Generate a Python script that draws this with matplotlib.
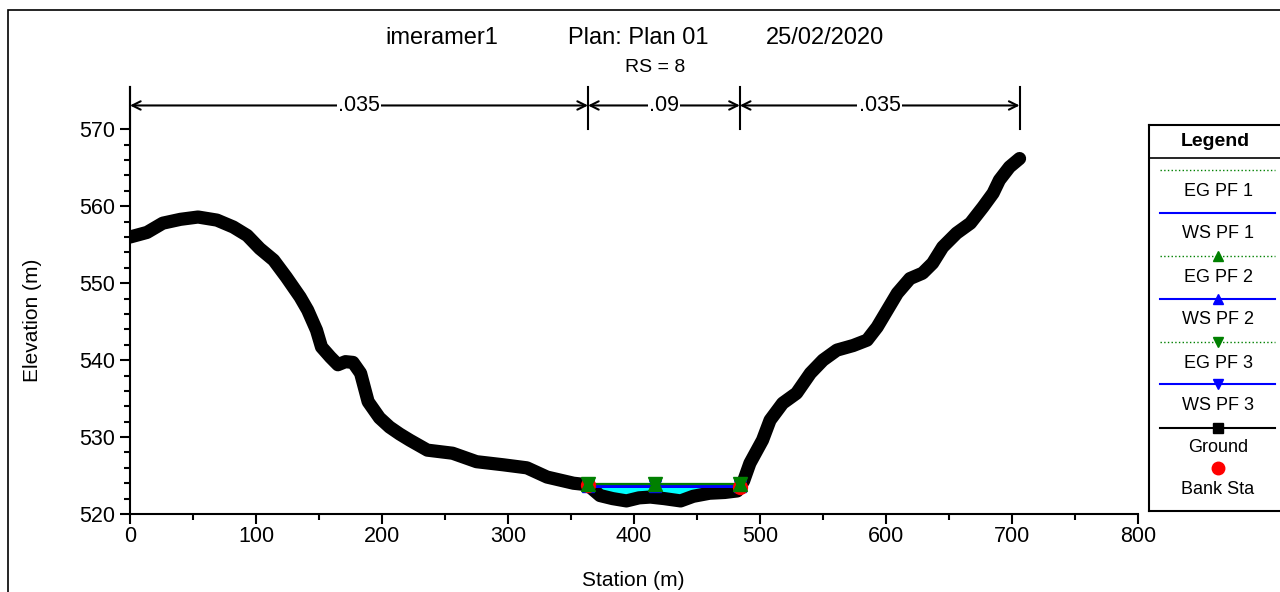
import numpy as np
import matplotlib
matplotlib.use("Agg")
import matplotlib.pyplot as plt
from matplotlib.patches import Rectangle
from matplotlib.ticker import MultipleLocator, FixedLocator

plt.rcParams['font.family'] = ['Liberation Sans', 'DejaVu Sans']

# ground profile (station m, elevation m)
station = [0, 13.5, 26, 40, 54, 69, 82, 93, 103, 114, 124, 135, 141, 148, 152,
           159, 165, 171, 177, 183, 189, 198, 206, 214, 222, 236, 256, 275, 296,
           315, 331, 352, 363, 373, 383, 394, 404, 413, 424, 437, 447, 460, 472,
           482, 487, 492, 502, 508, 518, 529, 540, 550, 561, 574, 585, 593, 601,
           609, 619, 629, 637, 645, 656, 667, 677, 685, 690, 698, 706]
ground = [556.0, 556.6, 557.8, 558.3, 558.6, 558.2, 557.3, 556.2, 554.5, 553.0,
          550.8, 548.2, 546.5, 543.9, 541.7, 540.4, 539.4, 539.8, 539.7, 538.3,
          534.6, 532.5, 531.3, 530.4, 529.6, 528.3, 527.9, 526.8, 526.4, 526.0,
          524.8, 524.0, 523.8, 522.4, 522.0, 521.7, 522.1, 522.2, 522.0, 521.7,
          522.3, 522.7, 522.8, 523.0, 524.3, 526.6, 529.6, 532.2, 534.4, 535.7,
          538.3, 540.0, 541.3, 541.9, 542.6, 544.3, 546.5, 548.7, 550.6, 551.3,
          552.6, 554.7, 556.5, 557.8, 559.9, 561.7, 563.4, 565.1, 566.2]

bank_sta = [363.5, 484]
ws_extent = [364, 484]
ws_elev = {'PF 1': 523.65, 'PF 2': 523.65, 'PF 3': 523.65}
eg_elev = {'PF 1': 523.95, 'PF 2': 523.95, 'PF 3': 523.95}
marker_sta = [363.5, 417, 484]

n_edges = [0, 363.5, 484, 706]
n_values = ['.035', '.09', '.035']

W, H = 1280, 592
fig = plt.figure(figsize=(12.8, 5.92), dpi=100)

# outer frame
fig.patches.append(Rectangle((8 / W, -0.05), 1.1, 1 - 10 / H + 0.05,
                             transform=fig.transFigure, fill=False,
                             edgecolor='black', lw=1.2))

ax = fig.add_axes([130 / W, 1 - 514 / H, (1138 - 130) / W, (514 - 87) / H])
ax.set_xlim(0, 800)
ax.set_ylim(520, 575.5)
for s in ['top', 'right']:
    ax.spines[s].set_visible(False)
ax.spines['left'].set_linewidth(1.5)
ax.spines['bottom'].set_linewidth(1.5)
ax.xaxis.set_major_locator(MultipleLocator(100))
ax.xaxis.set_minor_locator(MultipleLocator(50))
ax.yaxis.set_major_locator(FixedLocator(np.arange(520, 571, 10)))
ax.yaxis.set_minor_locator(FixedLocator(np.arange(520, 571, 2)))
ax.tick_params(which='major', length=7, width=1.5, labelsize=15.5, direction='out')
ax.tick_params(which='minor', length=4, width=1.5, direction='out')
ax.tick_params(axis='x', pad=2)
ax.tick_params(axis='y', pad=4)

fig.text(633 / W, 1 - 580 / H, 'Station (m)', fontsize=15, ha='center', va='center')
fig.text(33 / W, 1 - 320 / H, 'Elevation (m)', fontsize=15, ha='center',
         va='center', rotation=90)

st = np.array(station)
gr = np.array(ground)

# water fill in channel
ws = ws_elev['PF 1']
fine_st = np.linspace(ws_extent[0], ws_extent[1], 400)
fine_gr = np.interp(fine_st, st, gr)
ax.fill_between(fine_st, fine_gr, ws, where=fine_gr < ws, color='cyan', zorder=2)

ax.plot(st, gr, color='black', lw=9.5, solid_joinstyle='round',
        solid_capstyle='round', zorder=3)

# water surface / energy grade lines
ws_marks = {'PF 1': None, 'PF 2': '^', 'PF 3': 'v'}
for pf, mk in ws_marks.items():
    ax.plot(ws_extent, [ws_elev[pf]] * 2, color='blue', lw=2, zorder=4)
    ax.plot(ws_extent, [eg_elev[pf]] * 2, color='green', lw=1.5, zorder=5)
for pf, mk in ws_marks.items():
    if mk is None:
        continue
    ax.plot(marker_sta, [ws_elev[pf]] * 3, ls='none', marker=mk, color='blue',
            ms=9, zorder=4)
bank_el = np.interp(bank_sta, st, gr)
ax.plot(bank_sta, bank_el, ls='none', marker='o', color='red', ms=10, zorder=5)
for pf, mk in ws_marks.items():
    if mk is None:
        continue
    ax.plot(marker_sta, [eg_elev[pf]] * 3, ls='none', marker=mk, color='green',
            ms=10, zorder=6)

# Manning's n bars
y_arrow = 573.1
for x in n_edges:
    ax.plot([x, x], [570.1, 575.5], color='black', lw=1.5, clip_on=False, zorder=7)
for i, lab in enumerate(n_values):
    x0, x1 = n_edges[i], n_edges[i + 1]
    ax.annotate('', xy=(x1, y_arrow), xytext=(x0, y_arrow),
                arrowprops=dict(arrowstyle='<->,head_length=0.6,head_width=0.3',
                                color='black', lw=1.5, shrinkA=0, shrinkB=0),
                annotation_clip=False)
    ax.text((x0 + x1) / 2, y_arrow, lab, ha='center', va='center', fontsize=15.5,
            bbox=dict(facecolor='white', edgecolor='none', pad=1), zorder=8)

# titles
fig.text(385 / W, 1 - 38 / H, 'imeramer1', fontsize=17, va='center', ha='left')
fig.text(568 / W, 1 - 38 / H, 'Plan: Plan 01', fontsize=17, va='center', ha='left')
fig.text(766 / W, 1 - 38 / H, '25/02/2020', fontsize=17, va='center', ha='left')
fig.text(655 / W, 1 - 68 / H, 'RS = 8', fontsize=14, va='center', ha='center')

# legend box (pixel coords)
lg = fig.add_axes([1149 / W, 1 - 511 / H, (1285 - 1149) / W, (511 - 125) / H])
lg.set_xlim(1149, 1285)
lg.set_ylim(511, 125)
lg.set_xticks([])
lg.set_yticks([])
for s in lg.spines.values():
    s.set_linewidth(1.5)
lg.text(1215, 142, 'Legend', fontsize=14, fontweight='bold', ha='center', va='center')
lg.plot([1149, 1285], [158, 158], color='black', lw=1.2)

leg_labels = ['EG PF 1', 'WS PF 1', 'EG PF 2', 'WS PF 2', 'EG PF 3', 'WS PF 3',
              'Ground', 'Bank Sta']
leg_colors = ['green', 'blue', 'green', 'blue', 'green', 'blue', 'black', 'red']
leg_styles = [':', '-', ':', '-', ':', '-', '-', 'none']
leg_marks = [None, None, '^', '^', 'v', 'v', 's', 'o']
leg_line_y = [170, 213, 256, 299, 342, 384, 428, 468]
leg_text_y = [192, 234, 277, 320, 363, 406, 447, 490]
for lab, c, ls, mk, ly, ty in zip(leg_labels, leg_colors, leg_styles, leg_marks,
                                  leg_line_y, leg_text_y):
    if ls != 'none':
        lg.plot([1160, 1275], [ly, ly], color=c, ls=ls,
                lw=1.0 if ls == ':' else 1.5)
    if mk is not None:
        lg.plot([1218], [ly], marker=mk, color=c, ms=7 if mk != 'o' else 9, ls='none')
    lg.text(1218, ty, lab, fontsize=13, ha='center', va='center')

fig.savefig('out.png', dpi=100)
